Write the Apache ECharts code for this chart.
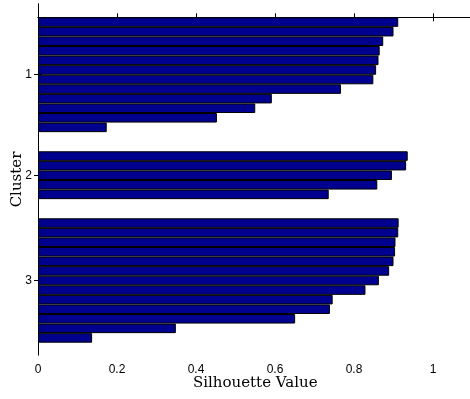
<!DOCTYPE html>
<html>
<head>
<meta charset="UTF-8">
<title>Silhouette</title>
<script src="https://cdn.jsdelivr.net/npm/echarts@6/dist/echarts.min.js"></script>
<style>
  html, body { margin: 0; padding: 0; background: #fff; }
</style>
</head>
<body>
<div id="main" style="width: 470px;height:399px;"></div>
<script type="text/javascript">
// silhouette values per cluster, sorted as in the plot (top to bottom)
var cluster1 = [0.912, 0.900, 0.874, 0.865, 0.862, 0.856, 0.849, 0.767, 0.592, 0.550, 0.453, 0.174];
var cluster2 = [0.936, 0.932, 0.896, 0.859, 0.736];
var cluster3 = [0.913, 0.912, 0.905, 0.904, 0.900, 0.889, 0.863, 0.829, 0.746, 0.739, 0.651, 0.349, 0.137];
var clusterNames = ['1', '2', '3'];
var gapRows = 2;

// build rows with empty gaps between clusters, and the centre of each cluster
var clusters = [cluster1, cluster2, cluster3];
var rows = [];
var centers = [];
clusters.forEach(function (c, i) {
    if (i > 0) {
        for (var g = 0; g < gapRows; g++) rows.push('-');
    }
    centers.push(rows.length + c.length / 2);
    c.forEach(function (v) { rows.push(v); });
});
var rowIdx = rows.map(function (v, i) { return i; });

var myChart = echarts.init(document.getElementById('main'));

var frameTop = 4, frameBottom = 355;
var barTop = 17.3, barBottom = 342.7;
var band = (barBottom - barTop) / rows.length;
var yMin = -(barTop - frameTop) / band;
var yMax = (frameBottom - barTop) / band;

var tickFont = { color: '#000', fontFamily: 'Liberation Sans', fontSize: 12 };
var line = { show: true, lineStyle: { color: '#000', width: 1 } };

function labelFor(v) {
    for (var i = 0; i < centers.length; i++) {
        if (Math.abs(centers[i] - v) < 1e-6) return clusterNames[i];
    }
    return '';
}

var option = {
    animation: false,
    grid: [
        { left: 38, top: frameTop, right: -2.5, bottom: 399 - frameBottom, outerBoundsMode: 'none' },
        { left: 38, top: barTop, right: -2.5, bottom: 399 - barBottom, outerBoundsMode: 'none' }
    ],
    xAxis: [
        {
            gridIndex: 0, type: 'value', position: 'bottom', min: 0, max: 1.1, interval: 0.2,
            axisLine: line,
            axisTick: { show: true, inside: true, length: 4, lineStyle: { color: '#000' } },
            axisLabel: Object.assign({
                margin: 9,
                showMaxLabel: false,
                formatter: function (v) { return Math.abs(v * 5 - Math.round(v * 5)) < 1e-6 ? String(+v.toFixed(1)) : ''; }
            }, tickFont),
            splitLine: { show: false },
            name: 'Silhouette Value', nameLocation: 'middle', nameGap: 21, nameMoveOverlap: false,
            nameTextStyle: { color: '#000', fontFamily: 'DejaVu Serif', fontSize: 15 }
        },
        {
            gridIndex: 0, type: 'value', position: 'top', min: 0, max: 1.1, interval: 0.2,
            axisLine: line,
            axisTick: { show: true, inside: true, length: 4, lineStyle: { color: '#000' } },
            axisLabel: { show: false },
            splitLine: { show: false }
        },
        { gridIndex: 1, type: 'value', min: 0, max: 1.1, show: false }
    ],
    yAxis: [
        {
            gridIndex: 0, type: 'value', position: 'left', inverse: true, min: yMin, max: yMax,
            axisLine: line,
            axisTick: { show: true, inside: true, length: 4, customValues: centers, lineStyle: { color: '#000' } },
            axisLabel: Object.assign({ margin: 6, customValues: centers, formatter: labelFor }, tickFont),
            splitLine: { show: false },
            name: 'Cluster', nameLocation: 'middle', nameGap: 13, nameMoveOverlap: false,
            nameTextStyle: { color: '#000', fontFamily: 'DejaVu Serif', fontSize: 15 }
        },
        {
            gridIndex: 0, type: 'value', position: 'right', inverse: true, min: yMin, max: yMax,
            axisLine: line,
            axisTick: { show: true, inside: true, length: 4, customValues: centers, lineStyle: { color: '#000' } },
            axisLabel: { show: false },
            splitLine: { show: false }
        },
        { gridIndex: 1, type: 'category', inverse: true, data: rowIdx, show: false }
    ],
    series: [
        {
            type: 'bar',
            xAxisIndex: 2,
            yAxisIndex: 2,
            barWidth: '100%',
            barCategoryGap: 0,
            itemStyle: { color: '#00008F', borderColor: '#000', borderWidth: 1 },
            data: rows
        }
    ]
};

myChart.setOption(option);
</script>
</body>
</html>
